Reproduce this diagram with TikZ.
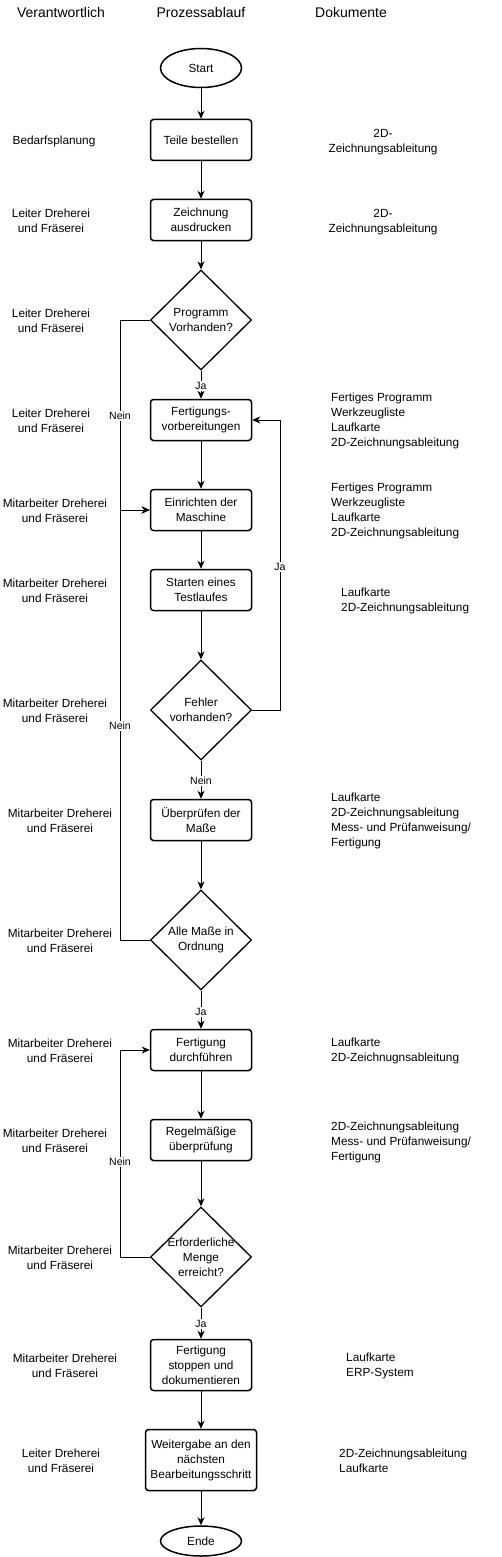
\documentclass[tikz,border=0pt]{standalone}
\usepackage{fontspec}
\setmainfont{Liberation Sans}
\usetikzlibrary{arrows.meta, shapes.geometric}

\begin{document}
\begin{tikzpicture}[x=1pt, y=-1pt, >={Stealth[length=8pt,width=7pt,inset=2.5pt]},
  font=\fontsize{11.8}{15}\selectfont,
  proc/.style={draw, rectangle, rounded corners=3pt, line width=1.5pt, minimum width=101pt, minimum height=41pt, align=center, inner sep=2pt},
  dec/.style={draw, diamond, line width=1.3pt, minimum width=101pt, minimum height=100pt, align=center, inner sep=-8pt},
  term/.style={draw, ellipse, line width=1.5pt, minimum width=81pt, minimum height=39pt},
  who/.style={align=center},
  docs/.style={align=left, anchor=west, inner xsep=0pt},
  colhead/.style={font=\fontsize{14}{17}\selectfont},
  lbl/.style={fill=white, inner sep=1pt, font=\fontsize{10.5}{12}\selectfont},
  flow/.style={line width=1pt}]
  \useasboundingbox (0,0) rectangle (501,1557);

  %% headers
  \node (hwho) at (61,12) [colhead] {Verantwortlich};
  \node (hproc) at (201,12) [colhead] {Prozessablauf};
  \node (hdoc) at (351,12) [colhead] {Dokumente};

  %% process
  \node (start) at (201,68) [term] {Start};
  \node (teile) at (201,140) [proc] {Teile bestellen};
  \node (zeich) at (201,220) [proc] {Zeichnung\\ausdrucken};
  \node (prog) at (201,320) [dec] {Programm\\Vorhanden?};
  \node (vorb) at (201,420) [proc] {Fertigungs-\\vorbereitungen};
  \node (einr) at (201,510) [proc] {Einrichten der\\Maschine};
  \node (test) at (201,590) [proc] {Starten eines\\Testlaufes};
  \node (fehler) at (201,710) [dec] {Fehler\\vorhanden?};
  \node (pruef) at (201,820) [proc] {Überprüfen der\\Maße};
  \node (masse) at (201,940) [dec] {Alle Maße in\\Ordnung};
  \node (fert) at (201,1050) [proc] {Fertigung\\durchführen};
  \node (regel) at (201,1140) [proc] {Regelmäßige\\überprüfung};
  \node (menge) at (201,1257) [dec] {Erforderliche\\Menge\\erreicht?};
  \node (stopp) at (201,1365) [proc, minimum height=51pt] {Fertigung\\stoppen und\\dokumentieren};
  \node (weiter) at (201,1460) [proc, minimum width=111pt, minimum height=61pt] {Weitergabe an den\\nächsten\\Bearbeitungsschritt};
  \node (ende) at (201,1541) [term, minimum height=30pt] {Ende};

  %% responsible
  \node (w1) at (54,141) [who] {Bedarfsplanung};
  \node (w2) at (51,221) [who] {Leiter Dreherei\\und Fräserei};
  \node (w3) at (51,321) [who] {Leiter Dreherei\\und Fräserei};
  \node (w4) at (51,421) [who] {Leiter Dreherei\\und Fräserei};
  \node (w5) at (55,511) [who] {Mitarbeiter Dreherei\\und Fräserei};
  \node (w6) at (55,591) [who] {Mitarbeiter Dreherei\\und Fräserei};
  \node (w7) at (55,711) [who] {Mitarbeiter Dreherei\\und Fräserei};
  \node (w8) at (60,821) [who] {Mitarbeiter Dreherei\\und Fräserei};
  \node (w9) at (60,941) [who] {Mitarbeiter Dreherei\\und Fräserei};
  \node (w10) at (60,1051) [who] {Mitarbeiter Dreherei\\und Fräserei};
  \node (w11) at (55,1141) [who] {Mitarbeiter Dreherei\\und Fräserei};
  \node (w12) at (60,1258) [who] {Mitarbeiter Dreherei\\und Fräserei};
  \node (w13) at (65,1366) [who] {Mitarbeiter Dreherei\\und Fräserei};
  \node (w14) at (61,1461) [who] {Leiter Dreherei\\und Fräserei};

  %% documents
  \node (d1) at (383,142) [who] {2D-\\Zeichnungsableitung};
  \node (d2) at (383,222) [who] {2D-\\Zeichnungsableitung};
  \node (d3) at (331,421) [docs] {Fertiges Programm\\Werkzeugliste\\Laufkarte\\2D-Zeichnungsableitung};
  \node (d4) at (331,511) [docs] {Fertiges Programm\\Werkzeugliste\\Laufkarte\\2D-Zeichnungsableitung};
  \node (d5) at (341,601) [docs] {Laufkarte\\2D-Zeichnungsableitung};
  \node (d6) at (331,821) [docs] {Laufkarte\\2D-Zeichnungsableitung\\Mess- und Prüfanweisung/\\Fertigung};
  \node (d7) at (331,1051) [docs] {Laufkarte\\2D-Zeichnugnsableitung};
  \node (d8) at (331,1142) [docs] {2D-Zeichnungsableitung\\Mess- und Prüfanweisung/\\Fertigung};
  \node (d9) at (346,1366) [docs] {Laufkarte\\ERP-System};
  \node (d10) at (339,1461) [docs] {2D-Zeichnungsableitung\\Laufkarte};

  %% main flow
  \draw[flow,->] (start) -- (teile);
  \draw[flow,->] (teile) -- (zeich);
  \draw[flow,->] (zeich) -- (prog);
  \draw[flow,->] (prog) -- (vorb);
  \draw[flow,->] (vorb) -- (einr);
  \draw[flow,->] (einr) -- (test);
  \draw[flow,->] (test) -- (fehler);
  \draw[flow,->] (fehler) -- (pruef);
  \draw[flow,->] (pruef) -- (masse);
  \draw[flow,->] (masse) -- (fert);
  \draw[flow,->] (fert) -- (regel);
  \draw[flow,->] (regel) -- (menge);
  \draw[flow,->] (menge) -- (stopp);
  \draw[flow,->] (stopp) -- (weiter);
  \draw[flow,->] (weiter) -- (ende);

  %% loops
  \coordinate (n1) at (120,320); % bend
  \coordinate (n2) at (120,940); % bend
  \coordinate (j1) at (280,710); % bend
  \coordinate (n3) at (120,1257); % bend
  \draw[flow,->] (prog.west) -- (n1) |- (einr.west);
  \draw[flow,->] (masse.west) -- (n2) |- (einr.west);
  \draw[flow,->] (fehler.east) -- (j1) |- (vorb.east);
  \draw[flow,->] (menge.west) -- (n3) |- (fert.west);

  %% labels
  \node (ja1) at (201,386) [lbl] {Ja};
  \node (nein1) at (120,416) [lbl] {Nein};
  \node (ja2) at (280,567) [lbl] {Ja};
  \node (nein2) at (120,726) [lbl] {Nein};
  \node (nein3) at (201,781) [lbl] {Nein};
  \node (ja3) at (201,1012) [lbl] {Ja};
  \node (nein4) at (120,1162) [lbl] {Nein};
  \node (ja4) at (201,1324) [lbl] {Ja};
\end{tikzpicture}
\end{document}
